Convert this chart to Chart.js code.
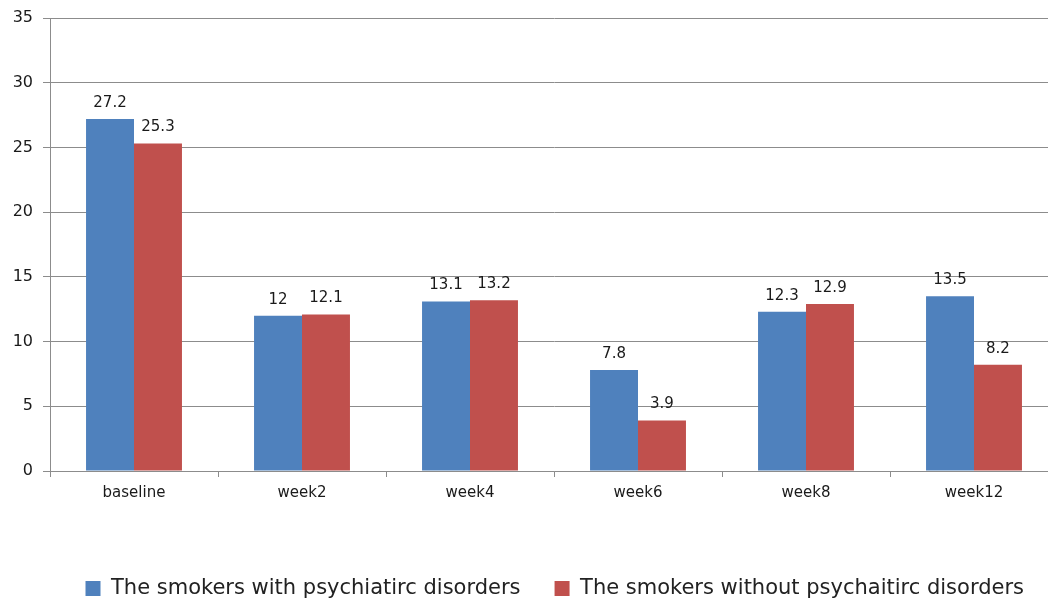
<!DOCTYPE html>
<html>
<head>
<meta charset="utf-8">
<script src="https://cdn.jsdelivr.net/npm/chart.js@4/dist/chart.umd.min.js"></script>
<style>
  html, body { margin: 0; padding: 0; background: #fff; overflow: hidden; }
  #wrap { width: 1048px; height: 603px; overflow: hidden; }
</style>
</head>
<body>
<div id="wrap"><canvas id="barChart" width="1058" height="603"></canvas></div>
<script>
var categories = ['baseline', 'week2', 'week4', 'week6', 'week8', 'week12'];
var withDisorders = [27.2, 12, 13.1, 7.8, 12.3, 13.5];
var withoutDisorders = [25.3, 12.1, 13.2, 3.9, 12.9, 8.2];
var seriesNames = ['The smokers with psychiatirc disorders', 'The smokers without psychaitirc disorders'];
var yTicks = [0, 5, 10, 15, 20, 25, 30, 35];

var fontFamily = '"DejaVu Sans", Verdana, sans-serif';

// draws the value above each bar
var valueLabels = {
    id: 'valueLabels',
    afterDatasetsDraw: function(chart) {
        var ctx = chart.ctx;
        ctx.save();
        ctx.font = '15px ' + fontFamily;
        ctx.fillStyle = '#1a1a1a';
        ctx.textAlign = 'center';
        ctx.textBaseline = 'middle';
        chart.data.datasets.forEach(function(ds, i) {
            chart.getDatasetMeta(i).data.forEach(function(bar, j) {
                ctx.fillText(String(ds.data[j]), bar.x, bar.y - 16);
            });
        });
        ctx.restore();
    }
};

var bar = document.getElementById('barChart').getContext('2d');

var chart = new Chart(bar, {
    type: 'bar',
    data: {
        labels: categories,
        datasets: [{
            label: seriesNames[0],
            data: withDisorders,
            backgroundColor: '#4F81BD',
            borderWidth: 0
        }, {
            label: seriesNames[1],
            data: withoutDisorders,
            backgroundColor: '#C0504D',
            borderWidth: 0
        }]
    },
    options: {
        responsive: false,
        animation: false,
        // the plot runs past the right edge, as in the original crop
        layout: { padding: { top: 0, right: 0, left: 0, bottom: -6 } },
        categoryPercentage: 0.571,
        barPercentage: 1,
        plugins: {
            tooltip: { enabled: false },
            legend: {
                position: 'bottom',
                align: 'end',
                labels: {
                    font: { family: fontFamily, size: 21, lineHeight: 1 },
                    color: '#222',
                    boxWidth: 15,
                    boxHeight: 15,
                    padding: 34
                }
            }
        },
        scales: {
            x: {
                afterFit: function(s) { s.height = 73; },
                grid: {
                    drawOnChartArea: false,
                    drawTicks: true,
                    tickLength: 6,
                    color: '#8c8c8c',
                    offset: true
                },
                border: { color: '#8c8c8c', width: 1 },
                ticks: {
                    font: { family: fontFamily, size: 15 },
                    color: '#1a1a1a',
                    padding: 7
                }
            },
            y: {
                min: 0,
                max: 35,
                afterFit: function(s) { s.width = 50; },
                afterBuildTicks: function(s) {
                    s.ticks = yTicks.map(function(v) { return { value: v }; });
                },
                grid: {
                    color: '#8c8c8c',
                    drawTicks: true,
                    tickLength: 7
                },
                border: { color: '#8c8c8c', width: 1 },
                ticks: {
                    font: { family: fontFamily, size: 16, lineHeight: 1 },
                    color: '#1a1a1a',
                    padding: 10
                }
            }
        }
    },
    plugins: [valueLabels]
});
</script>
</body>
</html>
